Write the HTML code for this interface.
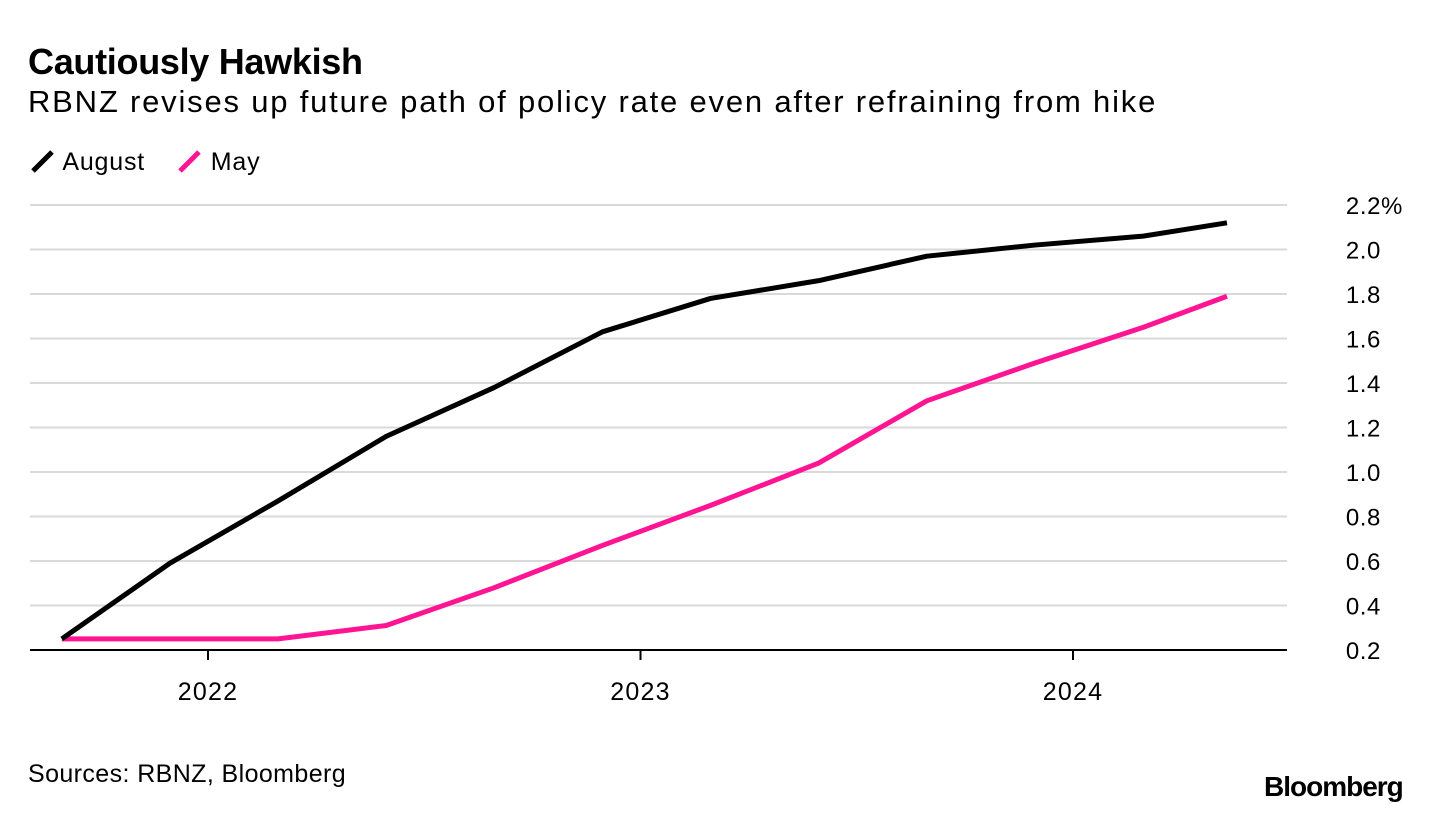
<!DOCTYPE html>
<html><head><meta charset="utf-8"><style>
body{margin:0;background:#fff;font-family:"Liberation Sans",sans-serif;}
#wrap{position:relative;width:1432px;height:814px;overflow:hidden;}
.t{position:absolute;white-space:nowrap;color:#000;}
</style></head><body>
<div id="wrap">
<div class="t" style="left:28px;top:41px;font-size:36px;font-weight:bold;letter-spacing:-0.3px">Cautiously Hawkish</div>
<div class="t" style="left:28px;top:84px;font-size:31px;letter-spacing:1.8px">RBNZ revises up future path of policy rate even after refraining from hike</div>
<div class="t" style="left:30px;top:148px;font-size:25px;letter-spacing:0.8px"><svg width="26" height="26" style="vertical-align:-4px"><line x1="3" y1="23" x2="22" y2="4" stroke="#000" stroke-width="5"/></svg> August</div>
<div class="t" style="left:177px;top:148px;font-size:25px;letter-spacing:0.8px"><svg width="26" height="26" style="vertical-align:-4px"><line x1="3" y1="23" x2="22" y2="4" stroke="#ff1493" stroke-width="5"/></svg> May</div>
<svg id="chart" width="1432" height="814" style="position:absolute;left:0;top:0"></svg>
<div class="t" style="left:28px;top:760px;font-size:25px;letter-spacing:0.4px">Sources: RBNZ, Bloomberg</div>
<div class="t" style="left:1264px;top:771px;font-size:28px;font-weight:bold;letter-spacing:-1px">Bloomberg</div>
</div>
<script>
const dates=[2021.662,2021.912,2022.162,2022.412,2022.662,2022.912,2023.162,2023.412,2023.662,2023.912,2024.162,2024.356];
const augustValues=[0.25,0.59,0.87,1.16,1.38,1.63,1.78,1.86,1.97,2.02,2.06,2.12];
const mayValues=[0.25,0.25,0.25,0.31,0.48,0.67,0.85,1.04,1.32,1.49,1.65,1.79];
const yTicks=[0.2,0.4,0.6,0.8,1.0,1.2,1.4,1.6,1.8,2.0,2.2];
const yTickLabels=["0.2","0.4","0.6","0.8","1.0","1.2","1.4","1.6","1.8","2.0","2.2%"];
const xTicks=[2022,2023,2024];
const xTickLabels=["2022","2023","2024"];
const NS="http://www.w3.org/2000/svg";
const svg=document.getElementById('chart');
const X=v=>208+(v-2022)*432.5;
const Y=v=>650-(v-0.2)*222.5;
function mk(tag,attrs){const e=document.createElementNS(NS,tag);for(const k in attrs)e.setAttribute(k,attrs[k]);svg.appendChild(e);return e;}
yTicks.forEach((t,i)=>{
 if(i>0){const g=mk('line',{x1:30,x2:1287,y1:Y(t),y2:Y(t),stroke:'#d9d9d9','stroke-width':2});
 
 }
 const tx=mk('text',{x:i==yTicks.length-1?1403:1381,y:Y(t)+9,'text-anchor':'end','font-size':24,'letter-spacing':0.6,'font-family':'Liberation Sans, sans-serif'});
 tx.textContent=yTickLabels[i];
 
 
});
const ax=mk('line',{x1:30,x2:1287,y1:650,y2:650,stroke:'#000','stroke-width':2});


xTicks.forEach((t,i)=>{
 const tk=mk('line',{x1:X(t),x2:X(t),y1:650,y2:660,stroke:'#000','stroke-width':2});
 
 
 const tx=mk('text',{x:X(t),y:700,'text-anchor':'middle','font-size':25,'letter-spacing':1.2,'font-family':'Liberation Sans, sans-serif'});
 tx.textContent=xTickLabels[i];
 
 
});
function line(vals,color,name){
 const p=mk('polyline',{points:vals.map((v,i)=>X(dates[i])+','+Y(v)).join(' '),fill:'none',stroke:color,'stroke-width':5,'stroke-linejoin':'round'});
 
 
}
line(mayValues,'#ff1493','may-line');
line(augustValues,'#000','august-line');
</script>
</body></html>
